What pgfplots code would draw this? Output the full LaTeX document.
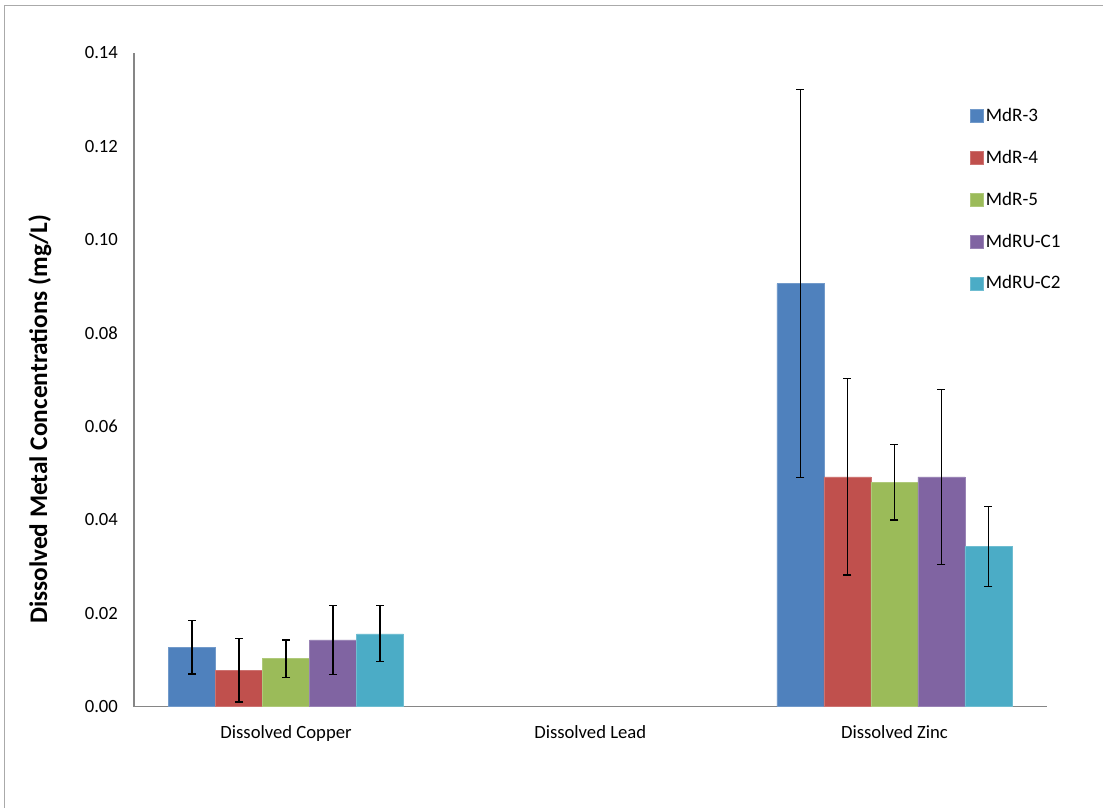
\documentclass[border=0pt]{standalone}
\usepackage{fontspec}
\setmainfont{Carlito}
\usepackage{pgfplots}
\pgfplotsset{compat=1.18}
\definecolor{c1}{HTML}{4F81BD}
\definecolor{c2}{HTML}{C0504D}
\definecolor{c3}{HTML}{9BBB59}
\definecolor{c4}{HTML}{8064A2}
\definecolor{c5}{HTML}{4BACC6}
\definecolor{axgray}{HTML}{868686}
\begin{document}
\begin{tikzpicture}
\path (0,0) rectangle (827.25pt,606pt);
\draw[axgray!70, line width=0.75pt] (3.75pt,0) -- (3.75pt,601.5pt) -- (827.25pt,601.5pt);
\begin{axis}[
  at={(100.5pt,75.75pt)}, anchor=south west,
  scale only axis, width=684.75pt, height=490.5pt,
  xmin=-0.5, xmax=2.5, ymin=0, ymax=0.14,
  axis x line=bottom, axis y line=left,
  axis line style={axgray, line width=1.1pt, -},
  xtick={0,1,2},
  xticklabels={Dissolved Copper, Dissolved Lead, Dissolved Zinc},
  ytick={0,0.02,0.04,0.06,0.08,0.10,0.12,0.14},
  major tick length=0pt,
  font=\fontsize{14pt}{16pt}\selectfont,
  tick label style={font=\fontsize{14pt}{16pt}\selectfont},
  /pgf/number format/assume math mode=true,
  yticklabel style={/pgf/number format/.cd, fixed, fixed zerofill, precision=2, /tikz/.cd, xshift=-8.5pt},
  xticklabel style={yshift=-10.7pt},
  ylabel={Dissolved Metal Concentrations (mg/L)},
  every axis y label/.style={at={(rel axis cs:0,0.4396)}, rotate=90, anchor=center, yshift=70.5pt, font=\fontsize{19pt}{21pt}\selectfont\bfseries},
  ybar=0pt, bar width=35.25pt,
  error bars/y dir=both, error bars/y explicit,
  error bars/error bar style={black, line width=0.9pt},
  error bars/error mark options={black, rotate=90, mark size=3pt, line width=0.9pt},
  legend style={draw=none, fill=none, at={(rel axis cs:0.9155,0.92)}, anchor=north west,
    row sep=16pt, inner sep=0pt, font=\fontsize{14.3pt}{16pt}\selectfont,
    nodes={inner sep=2pt}},
  legend cell align=left,
  legend image code/.code={\fill[#1] (0pt,-4.9pt) rectangle (9.75pt,4.9pt);},
  every legend image post/.style={xshift=0pt},
  legend style={/tikz/every odd column/.style={}, /tikz/every even column/.style={column sep=1.5pt}},
]
\addplot[fill=c1, draw=c1!80!white] table[x=x,y=y,y error=e] {
x y e
0 0.0127 0.0057
2 0.0906 0.0416
};
\addplot[fill=c2, draw=c2!80!white] table[x=x,y=y,y error=e] {
x y e
0 0.0078 0.0068
2 0.0492 0.0210
};
\addplot[fill=c3, draw=c3!80!white] table[x=x,y=y,y error=e] {
x y e
0 0.0103 0.0040
2 0.0481 0.0081
};
\addplot[fill=c4, draw=c4!80!white] table[x=x,y=y,y error=e] {
x y e
0 0.0143 0.0074
2 0.0492 0.0187
};
\addplot[fill=c5, draw=c5!80!white] table[x=x,y=y,y error=e] {
x y e
0 0.0156 0.0060
2 0.0343 0.0085
};
\legend{MdR-3, MdR-4, MdR-5, MdRU-C1, MdRU-C2}
\end{axis}
\end{tikzpicture}
\end{document}
